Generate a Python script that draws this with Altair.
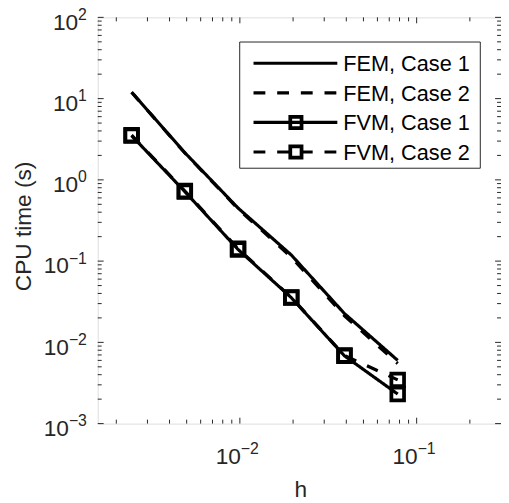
import altair as alt
import pandas as pd

# ---------------- data ----------------
h = [0.00244140625, 0.0048828125, 0.009765625, 0.01953125, 0.0390625, 0.078125]
fem_case1 = [12.0, 2.16, 0.45, 0.119, 0.0226, 0.0060]
fem_case2 = [12.0, 2.14, 0.44, 0.112, 0.0212, 0.0055]
fvm_case1 = [3.50, 0.717, 0.139, 0.0355, 0.00682, 0.00231]
fvm_case2 = [3.55, 0.730, 0.142, 0.0358, 0.00690, 0.00345]
series_names = ["FEM, Case 1", "FEM, Case 2", "FVM, Case 1", "FVM, Case 2"]
series_values = [fem_case1, fem_case2, fvm_case1, fvm_case2]

x_major = [0.01, 0.1]
x_major_exp = ["\u22122", "\u22121"]
x_minor = [0.002, 0.003, 0.004, 0.005, 0.006, 0.007, 0.008, 0.009,
           0.02, 0.03, 0.04, 0.05, 0.06, 0.07, 0.08, 0.09, 0.2]
y_major = [1e-3, 1e-2, 1e-1, 1e0, 1e1, 1e2]
y_major_exp = ["\u22123", "\u22122", "\u22121", "0", "1", "2"]
y_minor = [k * 10.0 ** e for e in range(-3, 2) for k in range(2, 10)]

x_title = "h"
y_title = "CPU time (s)"

# ---------------- tables ----------------
rows = []
for name, vals in zip(series_names, series_values):
    for hv, tv in zip(h, vals):
        rows.append({"series": name, "h": hv, "t": tv})
df = pd.DataFrame(rows)

W, H = 409, 412
FONT = "Liberation Sans"
AX = "#262626"

xs = alt.Scale(type="log", domain=[0.00157, 0.3], nice=False)
ys = alt.Scale(type="log", domain=[1e-3, 1e2], nice=False)
dash_scale = alt.Scale(domain=series_names, range=[[1, 0], [12, 12], [1, 0], [12, 12]])

X = alt.X("h:Q", scale=xs, axis=None)
Y = alt.Y("t:Q", scale=ys, axis=None)

lines = alt.Chart(df).mark_line(color="black", strokeWidth=3.2).encode(
    x=X, y=Y,
    strokeDash=alt.StrokeDash("series:N", scale=dash_scale, legend=None),
    detail="series:N",
)
points = alt.Chart(df).transform_filter(
    "indexof(datum.series, 'FVM') == 0"
).mark_point(shape="square", filled=False, size=165, strokeWidth=3.8,
             color="black", opacity=1).encode(x=X, y=Y)


def xticks(vals, L):
    d = pd.DataFrame({"v": vals})
    xe = alt.X("v:Q", scale=xs, axis=None)
    bot = alt.Chart(d).mark_rule(color=AX, strokeWidth=1).encode(
        x=xe, y=alt.value(H), y2=alt.value(H - L))
    top = alt.Chart(d).mark_rule(color=AX, strokeWidth=1).encode(
        x=xe, y=alt.value(0), y2=alt.value(L))
    return bot + top


def yticks(vals, L):
    d = pd.DataFrame({"v": vals})
    ye = alt.Y("v:Q", scale=ys, axis=None)
    left = alt.Chart(d).mark_rule(color=AX, strokeWidth=1).encode(
        y=ye, x=alt.value(0), x2=alt.value(L))
    right = alt.Chart(d).mark_rule(color=AX, strokeWidth=1).encode(
        y=ye, x=alt.value(W), x2=alt.value(W - L))
    return left + right


ticks = xticks(x_major, 6) + xticks(x_minor, 4) + yticks(y_major, 6) + yticks(y_minor, 4)

# x tick labels: "10" + superscript exponent
xl = pd.DataFrame({"v": x_major, "e": x_major_exp})
xl_ten = alt.Chart(xl).mark_text(align="right", baseline="alphabetic", fontSize=23,
                                 font=FONT, color=AX, dx=1).encode(
    x=alt.X("v:Q", scale=xs, axis=None), y=alt.value(453), text=alt.value("10"))
xl_exp = alt.Chart(xl).mark_text(align="left", baseline="alphabetic", fontSize=16,
                                 font=FONT, color=AX, dx=1).encode(
    x=alt.X("v:Q", scale=xs, axis=None), y=alt.value(443), text="e:N")

# y tick labels
yl = pd.DataFrame({"v": y_major, "e": y_major_exp})
yl_ten = alt.Chart(yl).transform_calculate(
    tx="length(datum.e) > 1 ? -29.2 : -19.9"
).mark_text(align="right", baseline="alphabetic", fontSize=23, font=FONT,
            color=AX, dy=12.5).encode(
    x=alt.X("tx:Q", scale=None), y=alt.Y("v:Q", scale=ys, axis=None),
    text=alt.value("10"))
yl_exp = alt.Chart(yl).mark_text(align="right", baseline="alphabetic", fontSize=16,
                                 font=FONT, color=AX, dy=2.5).encode(
    x=alt.value(-11), y=alt.Y("v:Q", scale=ys, axis=None), text="e:N")

one = pd.DataFrame({"title": [x_title]})
xtitle = alt.Chart(one).mark_text(align="center", baseline="alphabetic", fontSize=23,
                                  font=FONT, color=AX).encode(
    x=alt.value(206), y=alt.value(486), text="title:N")
ytitle = alt.Chart(pd.DataFrame({"title": [y_title]})).mark_text(
    align="center", baseline="alphabetic", fontSize=23, font=FONT, color=AX,
    angle=270).encode(x=alt.value(-68), y=alt.value(212), text="title:N")

# legend
leg = pd.DataFrame({"label": series_names, "row": [0, 1, 2, 3]})
leg_box = alt.Chart(one).mark_rect(fill="white", stroke=AX, strokeWidth=1).encode(
    x=alt.value(144), x2=alt.value(388), y=alt.value(25), y2=alt.value(153))
leg_base = alt.Chart(leg).transform_calculate(
    ly="46.5 + 30 * datum.row", ty="54.5 + 30 * datum.row")
leg_lines = leg_base.mark_rule(color="black", strokeWidth=3.2).encode(
    x=alt.value(158), x2=alt.value(243), y=alt.Y("ly:Q", scale=None),
    strokeDash=alt.StrokeDash("label:N", scale=dash_scale, legend=None))
leg_marks = leg_base.transform_filter("indexof(datum.label, 'FVM') == 0").mark_point(
    shape="square", filled=False, size=130, strokeWidth=3.8, color="black",
    opacity=1).encode(x=alt.value(201), y=alt.Y("ly:Q", scale=None))
leg_text = leg_base.mark_text(align="left", baseline="alphabetic", fontSize=22,
                              font=FONT, color="black").encode(
    x=alt.value(249), y=alt.Y("ty:Q", scale=None), text="label:N")

chart = alt.layer(
    ticks, lines, points, xl_ten, xl_exp, yl_ten, yl_exp, xtitle, ytitle,
    leg_box, leg_lines, leg_marks, leg_text,
).properties(
    width=W, height=H,
    autosize=alt.AutoSizeParams(type="none"),
    padding={"left": 91, "top": 6, "right": 0, "bottom": 76},
).configure_view(stroke=AX, strokeWidth=1.5).configure(background="white")

chart.save("out.html", embed_options={"renderer": "svg", "actions": False})
